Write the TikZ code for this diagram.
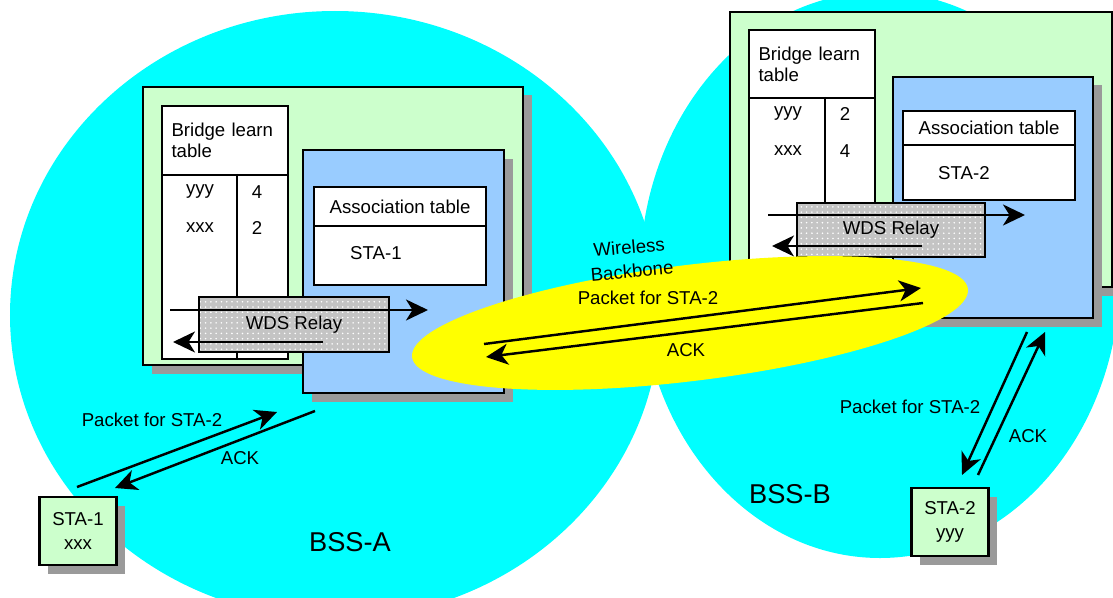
\documentclass[tikz,border=0pt]{standalone}
\usepackage{fontspec}
\setmainfont{Liberation Sans}
\usetikzlibrary{arrows.meta,shadows,patterns}
\definecolor{bsscyan}{HTML}{00FFFF}
\definecolor{bridgegreen}{HTML}{CCFFCC}
\definecolor{apblue}{HTML}{99CCFF}
\definecolor{wdsyellow}{HTML}{FFFF00}
\definecolor{relaygray}{HTML}{C4C4C4}
\definecolor{shadowgray}{HTML}{9A9A9A}

\begin{document}
\begin{tikzpicture}[
        font=\fontsize{10.6}{12}\selectfont,
        frame/.style={draw, line width=1.6pt, inner sep=0pt},
        shadowed/.style={drop shadow={shadow xshift=0.17cm, shadow yshift=-0.17cm,
                                      fill=shadowgray, opacity=1}},
        unit/.style={frame, fill=bridgegreen, shadowed},
        ap/.style={frame, fill=apblue, shadowed},
        tbl/.style={frame, line width=1.4pt, fill=white},
        head/.style={align=left, text width=2.14cm},
        relay/.style={frame, line width=1.4pt, preaction={fill=relaygray},
                      pattern=dots, pattern color=white},
        sta/.style={frame, fill=bridgegreen, shadowed, align=center,
                    minimum width=1.54cm, minimum height=1.36cm,
                    font=\fontsize{10.6}{14}\selectfont},
        bss/.style={font=\fontsize{15.5}{18}\selectfont},
        flow/.style={-{Stealth[length=4.4mm, width=4.2mm, inset=1.3mm]}, line width=1.4pt}
      ]
        \useasboundingbox (0,0) rectangle (22.26,11.94);
        \clip (0,0) rectangle (22.26,11.94);

        % the two cells
        \fill[bsscyan] (6.70,5.64) ellipse [x radius=6.50, y radius=6.08];
        \fill[bsscyan] (17.60,6.44) ellipse [x radius=4.80, y radius=5.66];

        % access point A
        \node[unit, minimum width=7.60cm, minimum height=5.56cm] (brgA) at (6.66,7.42) {};
        \node[tbl, head, minimum width=2.52cm, minimum height=1.38cm] (lrnAhd) at (4.50,9.13) {Bridge learn\\table};
        \node[tbl, minimum width=2.52cm, minimum height=3.68cm] (lrnAbd) at (4.50,6.60) {};
        \draw[line width=1.4pt] (lrnAbd.north west) ++(1.52,0) -- ++(0,-3.68);
        \node (lrnAy)  at (4.00,8.10) {yyy};
        \node (lrnAyp) at (5.14,8.10) {4};
        \node (lrnAx)  at (4.00,7.38) {xxx};
        \node (lrnAxp) at (5.14,7.38) {2};
        \node[ap, minimum width=4.02cm, minimum height=4.86cm] (apA) at (8.07,6.51) {};
        \node[tbl, minimum width=3.44cm, minimum height=0.78cm] (ascAhd) at (8.00,7.81) {Association table};
        \node[tbl, minimum width=3.44cm, minimum height=1.18cm] (ascAbd) at (8.00,6.83) {};
        \node[anchor=west] (ascAsta) at (6.88,6.88) {STA-1};
        \node[relay, minimum width=3.80cm, minimum height=1.10cm] (wdsA) at (5.88,5.45) {WDS Relay};
        \coordinate (wdsAl) at (3.40,5.74);
        \coordinate (wdsAr) at (8.56,5.74);
        \coordinate (wdsAs) at (6.46,5.10);
        \coordinate (wdsAe) at (3.46,5.10);
        \draw[flow] (wdsAl) -- (wdsAr);
        \draw[flow] (wdsAs) -- (wdsAe);

        % access point B
        \node[unit, minimum width=7.64cm, minimum height=5.50cm] (brgB) at (18.42,8.95) {};
        \node[tbl, head, minimum width=2.52cm, minimum height=1.36cm] (lrnBhd) at (16.24,10.66) {Bridge learn\\table};
        \node[tbl, minimum width=2.52cm, minimum height=3.48cm] (lrnBbd) at (16.24,8.24) {};
        \draw[line width=1.4pt] (lrnBbd.north west) ++(1.54,0) -- ++(0,-3.48);
        \node (lrnBy)  at (15.76,9.66) {yyy};
        \node (lrnByp) at (16.90,9.66) {2};
        \node (lrnBx)  at (15.76,8.92) {xxx};
        \node (lrnBxp) at (16.90,8.92) {4};
        \node[ap, minimum width=4.00cm, minimum height=4.82cm] (apB) at (19.86,7.99) {};
        \node[tbl, minimum width=3.44cm, minimum height=0.68cm] (ascBhd) at (19.78,9.38) {Association table};
        \node[tbl, minimum width=3.44cm, minimum height=1.10cm] (ascBbd) at (19.78,8.49) {};
        \node[anchor=west] (ascBsta) at (18.64,8.48) {STA-2};
        \node[relay, minimum width=3.76cm, minimum height=1.08cm] (wdsB) at (17.82,7.34) {WDS Relay};
        \coordinate (wdsBl) at (15.36,7.64);
        \coordinate (wdsBr) at (20.50,7.64);
        \coordinate (wdsBs) at (18.44,7.02);
        \coordinate (wdsBe) at (15.44,7.02);
        \draw[flow] (wdsBl) -- (wdsBr);
        \draw[flow] (wdsBs) -- (wdsBe);

        % wireless backbone between A and B
        \fill[wdsyellow, rotate around={7:(13.80,5.48)}] (13.80,5.48) ellipse [x radius=5.60, y radius=1.16];
        \node[rotate=5, inner sep=0pt] (bbwl) at (12.58,7.00) {Wireless};
        \node[rotate=5, inner sep=0pt] (bbbk) at (12.64,6.52) {Backbone};
        \node[inner sep=1pt] (bbpkt) at (12.96,5.98) {Packet for STA-2};
        \node (bback) at (13.72,4.94) {ACK};
        \coordinate (bbA1) at (9.68,5.06);
        \coordinate (bbB1) at (18.42,6.18);
        \coordinate (bbB2) at (18.46,5.88);
        \coordinate (bbA2) at (9.72,4.80);
        \draw[flow] (bbA1) -- (bbB1);
        \draw[flow] (bbB2) -- (bbA2);

        % stations
        \node[sta] (sta1) at (1.56,1.32) {STA-1\\xxx};
        \node[sta] (sta2) at (19.00,1.50) {STA-2\\yyy};
        \node[bss] (bssA) at (7.00,1.10) {BSS-A};
        \node[bss] (bssB) at (15.80,2.06) {BSS-B};

        \node (pktA) at (3.04,3.54) {Packet for STA-2};
        \node (ackA) at (4.80,2.78) {ACK};
        \coordinate (lkA1) at (1.54,2.20);
        \coordinate (lkA2) at (5.54,3.70);
        \coordinate (lkA3) at (6.30,3.72);
        \coordinate (lkA4) at (2.30,2.18);
        \draw[flow] (lkA1) -- (lkA2);
        \draw[flow] (lkA3) -- (lkA4);

        \node (pktB) at (18.20,3.80) {Packet for STA-2};
        \node (ackB) at (20.56,3.22) {ACK};
        \coordinate (lkB1) at (20.54,5.30);
        \coordinate (lkB2) at (19.24,2.44);
        \coordinate (lkB3) at (19.56,2.44);
        \coordinate (lkB4) at (20.90,5.30);
        \draw[flow] (lkB1) -- (lkB2);
        \draw[flow] (lkB3) -- (lkB4);
      \end{tikzpicture}
\end{document}
